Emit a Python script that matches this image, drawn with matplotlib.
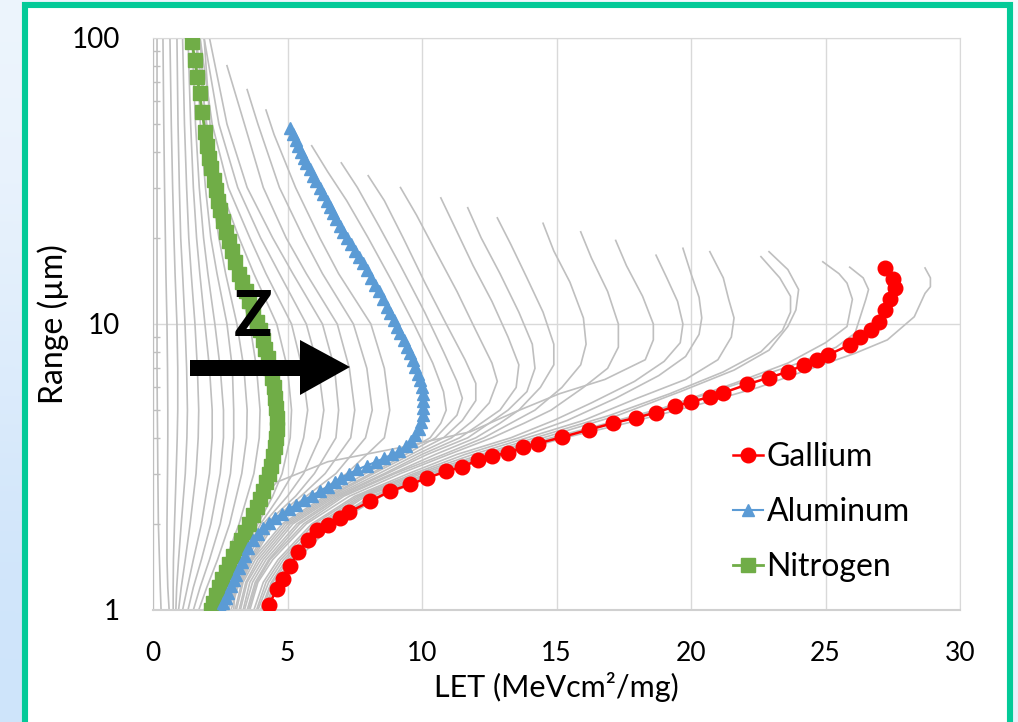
import matplotlib
matplotlib.use("Agg")
import matplotlib.pyplot as plt
import numpy as np
from matplotlib.patches import Rectangle, Polygon
from matplotlib.lines import Line2D
from matplotlib.ticker import LogLocator, NullFormatter

plt.rcParams['font.family'] = ['Lato', 'DejaVu Sans']

# highlighted ions, (LET, range)
gallium_let = [4.3, 4.6, 4.85, 5.1, 5.4, 5.76, 6.1, 6.5, 6.95, 7.3, 8.07, 8.8, 9.57, 10.2, 10.9,
               11.5, 12.1, 12.6, 13.2, 13.75, 14.3, 15.2, 16.2, 17.1, 17.95, 18.7, 19.4, 20.0,
               20.7, 21.2, 22.1, 22.9, 23.6, 24.2, 24.7, 25.1, 25.9, 26.3, 26.7, 27.0, 27.2,
               27.4, 27.6, 27.5, 27.2]
gallium_range = [1.04, 1.18, 1.28, 1.42, 1.6, 1.75, 1.9, 1.98, 2.1, 2.2, 2.4, 2.6, 2.75, 2.9, 3.05,
                 3.17, 3.35, 3.45, 3.55, 3.7, 3.82, 4.02, 4.27, 4.5, 4.7, 4.9, 5.15, 5.35,
                 5.55, 5.75, 6.15, 6.5, 6.8, 7.2, 7.5, 7.8, 8.45, 9.0, 9.5, 10.2, 11.2,
                 12.2, 13.4, 14.4, 15.7]

aluminum_let = [5.1, 5.2, 5.3, 5.4, 5.5, 5.6, 5.7, 5.82, 5.95, 6.07, 6.2, 6.32, 6.45, 6.57, 6.7,
                6.82, 6.95, 7.07, 7.2, 7.35, 7.5, 7.65, 7.8, 7.95, 8.1, 8.25, 8.4, 8.55, 8.7,
                8.82, 8.95, 9.07, 9.2, 9.32, 9.45, 9.55, 9.65, 9.75, 9.85, 9.93, 10.0, 10.03,
                10.05, 10.05, 10.03, 9.95, 9.87, 9.75, 9.6, 9.4, 9.15, 8.9, 8.6, 8.3, 7.95,
                7.6, 7.3, 7.0, 6.75, 6.5, 6.2, 5.9, 5.6, 5.3, 5.05, 4.8, 4.55, 4.3, 4.1, 3.9,
                3.72, 3.55, 3.42, 3.3, 3.2, 3.1, 3.0, 2.9, 2.8, 2.7, 2.62, 2.55]
aluminum_range = [48.5, 46, 44, 42, 40, 38, 36.5, 34.7, 33, 31.5, 30, 28.5, 27, 25.7, 24.5,
                  23.2, 22, 21, 20, 19, 18, 17.1, 16.3, 15.4, 14.5, 13.7, 13, 12.2, 11.5,
                  10.9, 10.3, 9.8, 9.3, 8.8, 8.3, 7.9, 7.5, 7.1, 6.7, 6.35, 6.0, 5.7,
                  5.4, 5.1, 4.8, 4.55, 4.3, 4.1, 3.9, 3.75, 3.6, 3.5, 3.4, 3.3, 3.2,
                  3.1, 3.0, 2.9, 2.8, 2.7, 2.6, 2.51, 2.42, 2.33, 2.25, 2.17, 2.1, 2.02, 1.93, 1.84,
                  1.75, 1.65, 1.55, 1.47, 1.4, 1.33, 1.27, 1.21, 1.15, 1.1, 1.06, 1.0]

nitrogen_let = [1.45, 1.55, 1.65, 1.73, 1.83, 1.93, 2.02, 2.1, 2.16, 2.25, 2.33, 2.42, 2.5,
                2.6, 2.72, 2.82, 2.93, 3.06, 3.2, 3.32, 3.45, 3.58, 3.72, 3.85, 3.97, 4.08,
                4.18, 4.28, 4.36, 4.43, 4.5, 4.55, 4.59, 4.61, 4.6, 4.57, 4.52, 4.45, 4.38,
                4.3, 4.2, 4.08, 3.97, 3.85, 3.72, 3.58, 3.43, 3.28, 3.13, 2.98, 2.84, 2.7,
                2.57, 2.45, 2.35, 2.24, 2.15]
nitrogen_range = [97, 84, 73, 64, 55, 47, 42, 38, 35, 32, 29.5, 27, 25,
                  23, 21, 19.5, 18, 16.5, 15, 14, 13, 12, 11, 10.2, 9.5, 8.8,
                  8.2, 7.6, 7.0, 6.5, 6.0, 5.5, 5.1, 4.7, 4.3, 4.0, 3.7, 3.45, 3.2,
                  3.0, 2.8, 2.6, 2.45, 2.3, 2.15, 2.0, 1.88, 1.76, 1.65, 1.55, 1.45, 1.36,
                  1.28, 1.2, 1.13, 1.06, 1.0]

# light ions, LET at shared ranges
low_ranges = [100, 50, 30, 20, 15, 10, 7, 5, 4, 3, 2, 1.5, 1.2, 1]
low_let = [
    [0.15, 0.15, 0.15, 0.15, 0.15, 0.15, 0.15, 0.16, 0.17, 0.18, 0.2, 0.24, 0.27, 0.3],
    [0.37, 0.4, 0.43, 0.46, 0.48, 0.52, 0.54, 0.55, 0.55, 0.54, 0.52, 0.52, 0.55, 0.6],
    [0.63, 0.68, 0.73, 0.78, 0.82, 0.89, 0.92, 0.92, 0.9, 0.86, 0.8, 0.76, 0.75, 0.75],
    [0.89, 0.93, 0.98, 1.03, 1.1, 1.19, 1.25, 1.28, 1.26, 1.2, 1.05, 0.95, 0.88, 0.85],
    [1.1, 1.17, 1.25, 1.33, 1.42, 1.56, 1.65, 1.7, 1.68, 1.6, 1.38, 1.2, 1.05, 0.95],
    [1.3, 1.4, 1.5, 1.62, 1.74, 1.93, 2.1, 2.2, 2.2, 2.1, 1.8, 1.5, 1.28, 1.1],
    [1.45, 1.58, 1.72, 1.88, 2.04, 2.3, 2.5, 2.62, 2.62, 2.5, 2.15, 1.8, 1.5, 1.3],
    [1.6, 1.76, 1.95, 2.15, 2.38, 2.75, 2.95, 3.0, 3.0, 2.88, 2.5, 2.1, 1.75, 1.5],
    [1.75, 1.95, 2.17, 2.45, 2.7, 3.12, 3.38, 3.5, 3.48, 3.3, 2.85, 2.4, 2.0, 1.7],
    [1.9, 2.12, 2.4, 2.75, 3.05, 3.6, 3.85, 3.98, 3.95, 3.75, 3.2, 2.7, 2.25, 1.9],
]

# medium ions between N and Al, (LET, range)
mid_curves = [
    [(1.6, 100), (2.0, 50), (2.5, 30), (3.2, 20), (3.75, 15), (4.6, 10), (5.0, 7), (5.15, 5), (5.1, 4), (4.8, 3), (4.45, 2.5), (3.9, 2), (3.2, 1.5), (2.7, 1.2), (2.3, 1.0)],
    [(1.75, 100), (2.2, 50), (2.8, 30), (3.6, 20), (4.2, 15), (5.15, 10), (5.55, 7), (5.75, 5), (5.6, 4), (5.2, 3), (4.7, 2.5), (4.0, 2), (3.3, 1.5), (2.8, 1.2), (2.4, 1.0)],
    [(1.9, 100), (2.45, 50), (3.15, 30), (4.0, 20), (4.7, 15), (5.7, 10), (6.15, 7), (6.35, 5), (6.2, 4), (5.6, 3), (5.0, 2.5), (4.1, 2), (3.4, 1.5), (2.9, 1.2), (2.5, 1.0)],
    [(2.1, 100), (2.75, 50), (3.5, 30), (4.45, 20), (5.2, 15), (6.3, 10), (6.75, 7), (6.9, 5), (6.8, 4), (6.0, 3), (5.3, 2.5), (4.2, 2), (3.5, 1.5), (3.0, 1.2), (2.6, 1.0)],
    [(2.75, 80), (3.4, 50), (4.1, 30), (4.95, 20), (5.7, 15), (6.85, 10), (7.3, 7), (7.5, 5), (7.35, 4), (6.4, 3), (5.5, 2.5), (4.3, 2), (3.6, 1.5), (3.05, 1.2), (2.7, 1.0)],
    [(3.5, 66), (3.9, 50), (4.7, 30), (5.6, 20), (6.3, 15), (7.45, 10), (7.95, 7), (8.15, 5), (7.9, 4), (6.8, 3), (5.7, 2.5), (4.4, 2), (3.65, 1.5), (3.1, 1.2), (2.8, 1.0)],
    [(4.2, 56), (4.5, 46), (5.3, 30), (6.2, 20), (6.9, 15), (8.1, 10), (8.6, 7), (8.8, 5), (8.6, 4), (7.2, 3), (5.9, 2.5), (4.5, 2), (3.7, 1.5), (3.15, 1.2), (2.9, 1.0)],
]

# heavy ions, (LET, range)
high_curves = [
    [(5.9, 42), (6.5, 34), (7.2, 27), (8.0, 20), (8.9, 14), (9.7, 10), (10.4, 7.3), (10.8, 5.8), (10.9, 5.0), (10.7, 4.5), (10.3, 4.0), (9.2, 3.5), (7.9, 3.0), (6.4, 2.5), (4.8, 2.0), (3.7, 1.5), (3.3, 1.25), (3.05, 1.0)],
    [(7.0, 36.6), (7.6, 30), (8.4, 22), (9.2, 16), (10.1, 11), (10.8, 8), (11.3, 6.3), (11.5, 5.5), (11.3, 4.8), (10.5, 4.0), (9.4, 3.5), (8.1, 3.0), (6.5, 2.5), (4.9, 2.0), (3.8, 1.5), (3.35, 1.25), (3.1, 1.0)],
    [(8.0, 33), (8.6, 27), (9.3, 20), (10.1, 14), (10.9, 10), (11.6, 7.5), (12.0, 6.2), (12.0, 5.4), (11.5, 4.6), (10.8, 4.0), (9.6, 3.5), (8.2, 3.0), (6.6, 2.5), (5.0, 2.0), (3.9, 1.5), (3.45, 1.25), (3.2, 1.0)],
    [(9.2, 30), (9.8, 24), (10.5, 18), (11.3, 13), (12.0, 9.5), (12.6, 7.3), (12.8, 6.3), (12.5, 5.3), (11.9, 4.6), (11.1, 4.0), (9.8, 3.5), (8.4, 3.0), (6.7, 2.5), (5.1, 2.0), (4.0, 1.5), (3.5, 1.25), (3.25, 1.0)],
    [(10.7, 27.6), (11.2, 22), (11.9, 16), (12.6, 12), (13.2, 9), (13.6, 7.2), (13.5, 6.0), (12.9, 5.0), (12.2, 4.5), (11.4, 4.0), (10.0, 3.5), (8.6, 3.0), (6.8, 2.5), (5.2, 2.0), (4.1, 1.5), (3.6, 1.25), (3.35, 1.0)],
    [(11.7, 25.5), (12.2, 20), (12.9, 15), (13.6, 11), (14.1, 8.5), (14.2, 7.0), (13.9, 5.8), (13.2, 5.0), (12.5, 4.5), (11.7, 4.0), (10.2, 3.5), (8.7, 3.0), (6.9, 2.5), (5.35, 2.0), (4.2, 1.5), (3.7, 1.25), (3.4, 1.0)],
    [(12.8, 23.5), (13.3, 19), (13.9, 14.5), (14.5, 11), (14.9, 8.5), (14.9, 7.2), (14.4, 6.0), (13.6, 5.0), (12.9, 4.5), (12.0, 4.0), (10.5, 3.5), (8.9, 3.0), (7.0, 2.5), (5.45, 2.0), (4.3, 1.5), (3.8, 1.25), (3.5, 1.0)],
    [(14.5, 22.5), (14.9, 18), (15.5, 14), (16.0, 10.5), (16.1, 8.5), (15.9, 7.2), (15.2, 6.0), (14.2, 5.0), (13.3, 4.5), (12.3, 4.0), (10.8, 3.5), (9.0, 3.0), (7.1, 2.5), (5.6, 2.0), (4.35, 1.5), (3.85, 1.25), (3.55, 1.0)],
    [(15.9, 21), (16.3, 17), (16.9, 13), (17.3, 10), (17.3, 8.3), (16.9, 7.0), (16.0, 6.0), (14.8, 5.0), (13.8, 4.5), (12.6, 4.0), (11.0, 3.5), (9.2, 3.0), (7.3, 2.5), (5.7, 2.0), (4.45, 1.5), (3.9, 1.25), (3.6, 1.0)],
    [(17.2, 19.6), (17.6, 16), (18.2, 12.5), (18.6, 10), (18.6, 8.8), (18.3, 7.5), (16.8, 6.4), (15.1, 5.7), (13.4, 4.9), (11.8, 4.2), (9.2, 3.7), (6.5, 3.3), (4.6, 2.8), (3.8, 2.3), (3.4, 1.9), (3.1, 1.4), (3.0, 1.0)],
    [(18.7, 17.4), (19.1, 14.5), (19.5, 12), (19.7, 10), (19.6, 8.6), (19.0, 7.4), (17.9, 6.3), (16.3, 5.3), (14.9, 4.6), (13.3, 4.0), (11.3, 3.5), (9.5, 3.0), (7.5, 2.5), (5.9, 2.0), (4.65, 1.5), (4.1, 1.25), (3.75, 1.0)],
    [(19.7, 18.4), (20.0, 15), (20.3, 12.4), (20.4, 10.5), (20.3, 9.2), (19.8, 7.7), (18.8, 6.6), (17.2, 5.5), (15.4, 4.6), (13.6, 4.0), (11.6, 3.5), (9.7, 3.0), (7.6, 2.5), (6.0, 2.0), (4.75, 1.5), (4.2, 1.25), (3.85, 1.0)],
    [(20.7, 17.9), (21.2, 14.5), (21.4, 12.2), (21.6, 10.5), (21.5, 9.0), (21.0, 7.5), (19.8, 6.4), (18.0, 5.5), (16.0, 4.6), (13.9, 4.0), (11.9, 3.5), (9.85, 3.0), (7.7, 2.5), (6.15, 2.0), (4.85, 1.5), (4.3, 1.25), (3.9, 1.0)],
    [(22.6, 17.2), (23.3, 14.5), (23.7, 12.5), (23.7, 11), (23.4, 9.5), (22.6, 8.0), (21.2, 6.8), (19.2, 5.7), (17.0, 4.8), (14.2, 4.0), (12.2, 3.5), (10.0, 3.0), (7.8, 2.5), (6.25, 2.0), (4.95, 1.5), (4.4, 1.25), (4.0, 1.0)],
    [(22.9, 17.9), (23.6, 15.5), (24.0, 13.2), (23.9, 11.2), (23.6, 9.8), (22.9, 8.1), (21.6, 6.9), (19.6, 5.8), (17.3, 4.8), (14.5, 4.0), (12.4, 3.5), (10.2, 3.0), (7.9, 2.5), (6.35, 2.0), (5.05, 1.5), (4.45, 1.25), (4.05, 1.0)],
    [(24.9, 16.5), (25.5, 15), (25.8, 13.9), (26.0, 12.2), (25.8, 9.8), (25.0, 8.6), (23.6, 7.3), (21.6, 6.2), (19.0, 5.1), (16.5, 4.4), (14.8, 4.0), (12.6, 3.5), (10.3, 3.0), (8.1, 2.5), (6.45, 2.0), (5.15, 1.5), (4.55, 1.25), (4.1, 1.0)],
    [(25.9, 15.8), (26.4, 14.5), (26.6, 13.2), (26.5, 12.2), (26.1, 9.3), (25.4, 8.3), (24.0, 7.3), (22.0, 6.3), (19.6, 5.3), (17.2, 4.5), (15.0, 4.0), (12.8, 3.5), (10.4, 3.0), (8.2, 2.5), (6.55, 2.0), (5.2, 1.5), (4.6, 1.25), (4.15, 1.0)],
    [(28.7, 15.7), (28.9, 14.5), (28.9, 13.5), (28.7, 12.8), (28.3, 10.6), (27.3, 8.8), (26.1, 7.9), (24.5, 7.0), (22.5, 6.0), (20.2, 5.2), (17.6, 4.5), (15.3, 4.0), (13.1, 3.5), (10.6, 3.0), (8.5, 2.5), (6.7, 2.0), (5.35, 1.5), (4.7, 1.25), (4.25, 1.0)],
]

x_ticks = [0, 5, 10, 15, 20, 25, 30]
y_ticks = [1, 10, 100]
y_tick_labels = ['1', '10', '100']

W, H = 1018, 722
fig = plt.figure(figsize=(W / 100, H / 100), dpi=100)

# light blue background and teal frame
bg = fig.add_axes([0, 0, 1, 1], zorder=-10)
grad = np.array([[[0.93, 0.96, 0.99], [0.97, 0.98, 1.0]],
                 [[0.80, 0.89, 0.98], [0.91, 0.95, 0.99]]])
bg.imshow(grad, extent=[0, 1, 0, 1], aspect='auto', interpolation='bicubic')
bg.axis('off')
fig.add_artist(Rectangle((24.5 / W, -4 / H), 985 / W, 721 / H, transform=fig.transFigure,
                         facecolor='white', edgecolor='#03CA98', linewidth=4.4, zorder=-5))

ax = fig.add_axes([153 / W, 112 / H, 807 / W, 572 / H])
grey = '#BFBFBF'
for row in low_let:
    ax.plot(row, low_ranges, color=grey, lw=1.2, zorder=2)
for c in mid_curves + high_curves:
    lx, ly = zip(*c)
    ax.plot(lx, ly, color=grey, lw=1.2, zorder=2)

ga_c, al_c, n_c = '#FF0000', '#5B9BD5', '#70AD47'
ax.plot(nitrogen_let, nitrogen_range, color=n_c, lw=2, marker='s', ms=10, zorder=4)
ax.plot(aluminum_let, aluminum_range, color=al_c, lw=1.5, marker='^', ms=9, zorder=5)
ax.plot(gallium_let, gallium_range, color=ga_c, lw=1.8, marker='o', ms=10.5, zorder=6)

ax.set_yscale('log')
ax.set_xlim(0, 30)
ax.set_ylim(1, 100)
ax.set_xticks(x_ticks)
ax.set_yticks(y_ticks, labels=y_tick_labels)
ax.yaxis.set_minor_locator(LogLocator(base=10, subs=np.arange(2, 10)))
ax.yaxis.set_minor_formatter(NullFormatter())
ax.tick_params(axis='both', which='major', length=0, pad=24)
ax.tick_params(axis='x', labelsize=19, pad=22)
ax.tick_params(axis='y', labelsize=20)
ax.tick_params(axis='y', which='minor', direction='in', length=5, color=grey, width=1)
ax.grid(True, which='major', color='#D9D9D9', lw=1)
for s in ['top', 'right']:
    ax.spines[s].set_color('#D9D9D9')
ax.spines['left'].set_color(grey)
ax.spines['bottom'].set_color('#D0D0D0')
ax.spines['bottom'].set_linewidth(1.5)
ax.set_axisbelow(True)

ax.set_xlabel('LET (MeVcm²/mg)', fontsize=22, labelpad=5)
ax.set_ylabel('Range (µm)', fontsize=23, labelpad=2)

handles = [
    Line2D([], [], color=ga_c, lw=1.8, marker='o', ms=10.5),
    Line2D([], [], color=al_c, lw=1.5, marker='^', ms=9),
    Line2D([], [], color=n_c, lw=2, marker='s', ms=10),
]
ax.legend(handles, ['Gallium', 'Aluminum', 'Nitrogen'], loc='upper left',
          bbox_to_anchor=(733 / W, 1 - 442 / H), bbox_transform=fig.transFigure,
          frameon=False, fontsize=23, handlelength=0.95, handletextpad=0.1,
          labelspacing=0.78, borderpad=0, borderaxespad=0)

# Z arrow
arrow_px = [(190, 360), (300, 360), (300, 340), (350, 367), (300, 395), (300, 376), (190, 376)]
fig.add_artist(Polygon([(x / W, 1 - y / H) for x, y in arrow_px], closed=True,
                       transform=fig.transFigure, facecolor='black', edgecolor='none', zorder=10))
fig.text(253 / W, 1 - 318 / H, 'Z', fontsize=46, fontweight='bold', ha='center', va='center',
         zorder=10)

fig.savefig('out.png', dpi=100)
